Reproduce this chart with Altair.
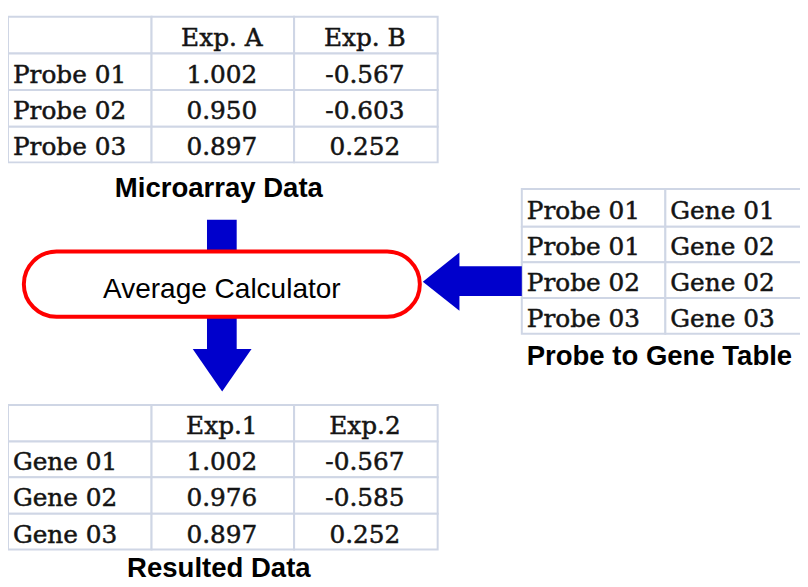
import altair as alt
import pandas as pd

# ---------------- data ----------------
micro_cols = ["Exp. A", "Exp. B"]
probes = ["Probe 01", "Probe 02", "Probe 03"]
exp_a = [1.002, 0.950, 0.897]
exp_b = [-0.567, -0.603, 0.252]

map_probes = ["Probe 01", "Probe 01", "Probe 02", "Probe 03"]
map_genes = ["Gene 01", "Gene 02", "Gene 02", "Gene 03"]

result_cols = ["Exp.1", "Exp.2"]
genes = ["Gene 01", "Gene 02", "Gene 03"]
exp_1 = [1.002, 0.976, 0.897]
exp_2 = [-0.567, -0.585, 0.252]

titles = ["Microarray Data", "Probe to Gene Table", "Resulted Data"]
process_label = "Average Calculator"

# ---------------- layout (diagram geometry, in image pixels) ----------------
W, H = 800, 579
VIEW_X = [7, 807]
VIEW_Y = [8, 587]

grid_1 = dict(cols=[7, 152, 296, 441], rows=[14, 51, 88, 125, 161])
grid_2 = dict(cols=[526, 671, 820], rows=[188, 226, 262, 298, 334])
grid_3 = dict(cols=[7, 152, 296, 441], rows=[406, 443, 479, 516, 552])
title_pos = [(220, 196), (665, 366), (220, 580)]

shafts = [  # x, x2, y, y2
    (208, 238, 219, 252),
    (208, 238, 316, 350),
    (462, 526, 266, 296),
]
PATH_DOWN = "M-1,-0.72L1,-0.72L0,0.72Z"
PATH_LEFT = "M0.627,-1L0.627,1L-0.627,0Z"
heads = [  # cx, cy, path, size
    (223.3, 371, PATH_DOWN, 59.4 ** 2),
    (444.5, 281.5, PATH_LEFT, 59.0 ** 2),
]
stadium = (23, 423, 251, 317)
label_pos = (223, 298.5)

BORDER = "#cfd6e5"
BLUE = "#0000cc"
TEXT = "#141414"

# ---------------- build tables ----------------
cell_rects, text_left, text_center = [], [], []


def add_table(grid, rows, aligns):
    cols, rws = grid["cols"], grid["rows"]
    for r, row in enumerate(rows):
        y, y2 = rws[r], rws[r + 1]
        for c, txt in enumerate(row):
            x, x2 = cols[c], cols[c + 1]
            cell_rects.append(dict(x=x, x2=x2, y=y, y2=y2))
            if txt == "":
                continue
            base = (y + y2) / 2 + 11
            if aligns[c] == "left":
                text_left.append(dict(x=x + 5, y=base, text=txt))
            else:
                text_center.append(dict(x=(x + x2) / 2 - 1, y=base, text=txt))


fmt = lambda v: f"{v:.3f}"
t1 = [[""] + micro_cols] + [[p, fmt(a), fmt(b)] for p, a, b in zip(probes, exp_a, exp_b)]
t2 = [[p, g] for p, g in zip(map_probes, map_genes)]
t3 = [[""] + result_cols] + [[g, fmt(a), fmt(b)] for g, a, b in zip(genes, exp_1, exp_2)]
add_table(grid_1, t1, ["left", "center", "center"])
add_table(grid_2, t2, ["left", "left"])
add_table(grid_3, t3, ["left", "center", "center"])

df_cells = pd.DataFrame(cell_rects)
df_tl = pd.DataFrame(text_left)
df_tc = pd.DataFrame(text_center)
df_titles = pd.DataFrame([dict(x=p[0], y=p[1], text=t) for t, p in zip(titles, title_pos)])
df_shafts = pd.DataFrame([dict(x=a, x2=b, y=c, y2=d) for a, b, c, d in shafts])
df_heads = pd.DataFrame([dict(x=a, y=b, shape=c, size=d) for a, b, c, d in heads])
df_stadium = pd.DataFrame([dict(x=stadium[0], x2=stadium[1], y=stadium[2], y2=stadium[3])])
df_label = pd.DataFrame([dict(x=label_pos[0], y=label_pos[1], text=process_label)])

xs = alt.Scale(domain=VIEW_X, nice=False, zero=False)
ys = alt.Scale(domain=VIEW_Y, nice=False, zero=False, reverse=True)
X = alt.X("x:Q", scale=xs, axis=None)
Y = alt.Y("y:Q", scale=ys, axis=None)

cells = alt.Chart(df_cells).mark_rect(fill="white", stroke=BORDER, strokeWidth=2).encode(
    x=X, x2="x2:Q", y=Y, y2="y2:Q")
shaft_layer = alt.Chart(df_shafts).mark_rect(color=BLUE).encode(x=X, x2="x2:Q", y=Y, y2="y2:Q")
head_layer = alt.Chart(df_heads).mark_point(filled=True, opacity=1, color=BLUE, strokeWidth=0).encode(
    x=X, y=Y,
    shape=alt.Shape("shape:N", scale=None),
    size=alt.Size("size:Q", scale=None),
)
stadium_layer = alt.Chart(df_stadium).mark_rect(
    fill="white", stroke="#ff0000", strokeWidth=4, cornerRadius=33
).encode(x=X, x2="x2:Q", y=Y, y2="y2:Q")

cell_text = dict(baseline="alphabetic", font="DejaVu Serif", fontSize=25, color=TEXT,
                 stroke=TEXT, strokeWidth=0.5)
tl = alt.Chart(df_tl).mark_text(align="left", **cell_text).encode(x=X, y=Y, text="text:N")
tc = alt.Chart(df_tc).mark_text(align="center", **cell_text).encode(x=X, y=Y, text="text:N")
title_layer = alt.Chart(df_titles).mark_text(align="center", baseline="alphabetic",
                                             font="Liberation Sans", fontSize=27.8, fontWeight="bold",
                                             color="black").encode(x=X, y=Y, text="text:N")
label_layer = alt.Chart(df_label).mark_text(align="center", baseline="alphabetic",
                                            font="Liberation Sans", fontSize=28.3,
                                            color="black").encode(x=X, y=Y, text="text:N")

chart = alt.layer(
    cells, shaft_layer, head_layer, stadium_layer, tl, tc, title_layer, label_layer
).properties(
    width=W, height=H, autosize=alt.AutoSizeParams(type="none"), padding=0, background="white"
).configure_view(stroke=None)

chart.save("out.html", embed_options={"renderer": "svg", "actions": False})
